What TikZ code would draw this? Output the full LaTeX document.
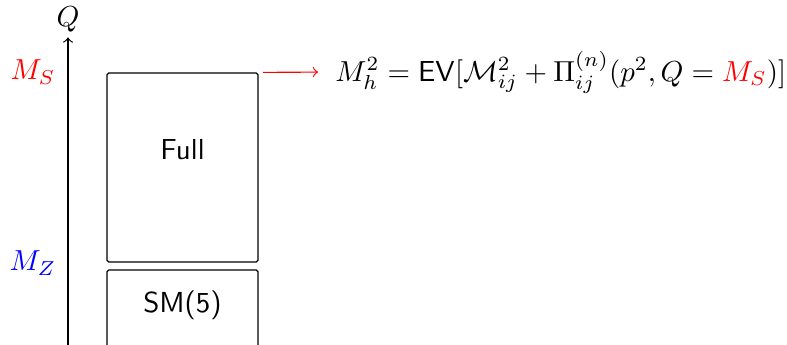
\documentclass[tikz,border=0pt]{standalone}
\usepackage{amsmath}
\usepackage{xcolor}
\usepackage{tikz}
\usetikzlibrary{positioning}
\tikzset{
  scalebox/.style={draw, rounded corners=0.6pt, minimum width=18.35mm, inner sep=0pt},
  boxlbl/.style={font=\sffamily},
  scalelbl/.style={font=\normalsize},
  axis/.style={->},
  flow/.style={->, draw=red, shorten >=2.4pt},
}
\begin{document}
\begin{tikzpicture}
\useasboundingbox (0,0) rectangle (9.563,4.180);
% energy axis
\coordinate (qbot) at (0.826,-0.1);
\node[inner sep=1.5pt] (q) at (0.826,3.94) {$Q$};
\draw[axis] (qbot) -- (q.south);
\node[scalelbl] (ms) at (0.401,3.305) {$\color{red}M_S$};
\node[scalelbl] (mz) at (0.401,0.984) {$\color{blue}M_Z$};
% theories
\node[scalebox, minimum height=22.97mm] (full) at (2.2175,2.1445) {};
\node[scalebox, minimum height=14mm] (sm) at (2.2175,0.199) {};
\node[boxlbl] (fulltxt) at (2.2175,2.357) {Full};
\node[boxlbl] (smtxt) at (2.2175,0.474) {SM(5)};
% matching
\node[anchor=west] (mh) at (3.95,3.305)
  {$M_h^2 = \mathsf{EV}[\mathcal{M}^2_{ij} + \Pi^{(n)}_{ij}(p^2, Q = {\color{red}M_S})]$};
\draw[flow] ([xshift=1.5pt]full.north east) -- (mh.west);
\end{tikzpicture}
\end{document}
